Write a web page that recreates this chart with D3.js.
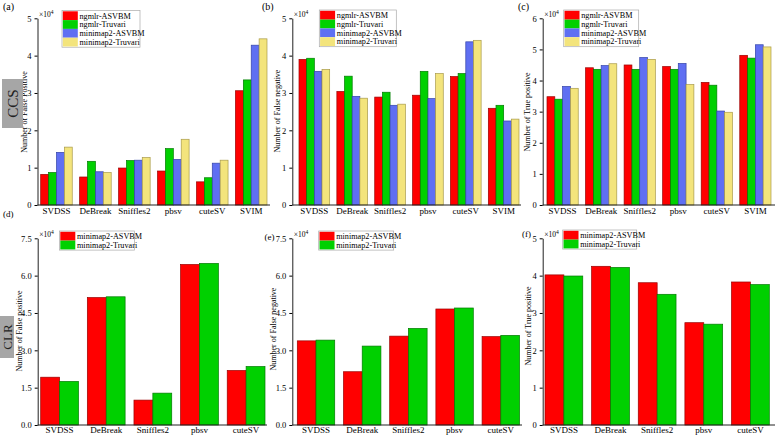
<!DOCTYPE html>
<head>
  <meta charset="utf-8">
  <script src="https://d3js.org/d3.v7.min.js"></script>
  <style>
    body { margin: 0; background: #fff; }
    text { font-family: "Liberation Serif", "Times New Roman", serif; }
  </style>
</head>
<body>
<div id="my_dataviz"></div>
<script>

  // categories and series
  var toolsCCS = ["SVDSS", "DeBreak", "Sniffles2", "pbsv", "cuteSV", "SVIM"];
  var toolsCLR = ["SVDSS", "DeBreak", "Sniffles2", "pbsv", "cuteSV"];
  var seriesCCS = ["ngmlr-ASVBM", "ngmlr-Truvari", "minimap2-ASVBM", "minimap2-Truvari"];
  var seriesCLR = ["minimap2-ASVBM", "minimap2-Truvari"];

  // values (x10^4), one row per tool, one column per series
  var fpCCS = [
    [0.82, 0.87, 1.41, 1.55],
    [0.75, 1.17, 0.89, 0.87],
    [0.99, 1.19, 1.20, 1.27],
    [0.91, 1.51, 1.22, 1.76],
    [0.62, 0.73, 1.12, 1.20],
    [3.06, 3.35, 4.28, 4.45]
  ];
  var fnCCS = [
    [3.90, 3.93, 3.58, 3.63],
    [3.04, 3.45, 2.91, 2.86],
    [2.89, 3.02, 2.67, 2.70],
    [2.94, 3.58, 2.85, 3.52],
    [3.44, 3.52, 4.37, 4.41],
    [2.59, 2.67, 2.25, 2.30]
  ];
  var tpCCS = [
    [3.48, 3.40, 3.81, 3.75],
    [4.41, 4.36, 4.48, 4.54],
    [4.50, 4.36, 4.74, 4.68],
    [4.45, 4.36, 4.55, 3.87],
    [3.94, 3.85, 3.02, 2.98],
    [4.81, 4.72, 5.15, 5.08]
  ];
  var fpCLR = [
    [1.92, 1.75],
    [5.12, 5.15],
    [1.00, 1.28],
    [6.45, 6.49],
    [2.19, 2.35]
  ];
  var fnCLR = [
    [3.38, 3.41],
    [2.14, 3.17],
    [3.57, 3.88],
    [4.66, 4.70],
    [3.55, 3.60]
  ];
  var tpCLR = [
    [4.02, 3.99],
    [4.25, 4.22],
    [3.81, 3.50],
    [2.74, 2.70],
    [3.83, 3.76]
  ];

  // tick labels
  var ticks5 = [0, 1, 2, 3, 4, 5];
  var ticks6 = [0, 1, 2, 3, 4, 5, 6];
  var ticks75 = [0, 1.5, 3.0, 4.5, 6.0, 7.5];

  var fills = ["#ff0000", "#00d000", "#5f6ff2", "#f3e47c"];
  var strokes = ["#9a0000", "#007a00", "#3444a8", "#a89a4a"];

  var svg = d3.select("#my_dataviz")
    .append("svg")
      .attr("width", 776)
      .attr("height", 438);

  var panels = [
    {tag: "(a)", tagX: 3, tagY: 10, tools: toolsCCS, series: seriesCCS, data: fpCCS, ticks: ticks5, fmt: "d",
     label: "Number of False Positive", labX: 24, labY: 112,
     ax: 37.5, axEnd: 270, bars: [40.7, 267], top: 18.3, base: 205, padT: 3,
     leg: [62, 10.5, 78]},
    {tag: "(b)", tagX: 262, tagY: 10, tools: toolsCCS, series: seriesCCS, data: fnCCS, ticks: ticks5, fmt: "d",
     label: "Number of False negative", labX: 277, labY: 111,
     ax: 292.3, axEnd: 521, bars: [299, 519], top: 18.3, base: 205, padT: 3,
     leg: [319.3, 10, 77]},
    {tag: "(c)", tagX: 518, tagY: 10, tools: toolsCCS, series: seriesCCS, data: tpCCS, ticks: ticks6, fmt: "d",
     label: "Number of True positive", labX: 527, labY: 112,
     ax: 542.7, axEnd: 775, bars: [547, 771], top: 18.3, base: 205, padT: 3,
     leg: [563.7, 10, 75]},
    {tag: "(d)", tagX: 3, tagY: 217, tools: toolsCLR, series: seriesCLR, data: fpCLR, ticks: ticks75, fmt: ".1f",
     label: "Number of False positive", labX: 19, labY: 331,
     ax: 37.7, axEnd: 267, bars: [40.7, 265], top: 238.3, base: 425, padT: 2,
     leg: [59.5, 231, 75]},
    {tag: "(e)", tagX: 264.5, tagY: 240, tools: toolsCLR, series: seriesCLR, data: fnCLR, ticks: ticks75, fmt: ".1f",
     label: "Number of False negative", labX: 273, labY: 329,
     ax: 292.3, axEnd: 522, bars: [297.3, 519.5], top: 238.3, base: 425, padT: 2,
     leg: [318.7, 231, 75]},
    {tag: "(f)", tagX: 522, tagY: 237, tools: toolsCLR, series: seriesCLR, data: tpCLR, ticks: ticks5, fmt: "d",
     label: "Number of True positive", labX: 528, labY: 326,
     ax: 542.7, axEnd: 775, bars: [545, 769.3], top: 238.3, base: 425, padT: 2,
     leg: [562.7, 230, 74]}
  ];

  panels.forEach(function(p, pi) {
    var g = svg.append("g");
    var ymax = p.ticks[p.ticks.length - 1];

    var x = d3.scaleBand()
      .domain(p.tools)
      .range(p.bars)
      .paddingInner(0.19)
      .paddingOuter(0);

    var xs = d3.scaleBand()
      .domain(p.series)
      .range([0, x.bandwidth()]);

    var y = d3.scaleLinear()
      .domain([0, ymax])
      .range([p.base, p.top]);

    // bars
    var groups = g.selectAll(".grp")
      .data(p.data)
      .enter()
      .append("g")
        .attr("transform", function(d, i) { return "translate(" + x(p.tools[i]) + ",0)"; });

    groups.selectAll("rect")
      .data(function(d) { return d; })
      .enter()
      .append("rect")
        .attr("x", function(d, j) { return xs(p.series[j]); })
        .attr("y", function(d) { return y(d); })
        .attr("width", xs.bandwidth())
        .attr("height", function(d) { return y(0) - y(d); })
        .style("fill", function(d, j) { return fills[j]; })
        .style("stroke", function(d, j) { return strokes[j]; })
        .style("stroke-width", 0.7);

    // y axis
    var ya = g.append("g")
      .attr("transform", "translate(" + p.ax + ",0)")
      .call(d3.axisLeft(y).tickValues(p.ticks).tickFormat(d3.format(p.fmt))
        .tickSizeInner(3).tickSizeOuter(0).tickPadding(3));
    ya.style("font-size", "8.5px").style("font-family", "Liberation Serif");
    ya.select(".domain").attr("stroke", "#222");

    // x axis
    var xa = g.append("g")
      .attr("transform", "translate(0," + p.base + ")")
      .call(d3.axisBottom(x).tickSize(0).tickPadding(p.padT));
    xa.style("font-size", "9px").style("font-family", "Liberation Serif");
    xa.select(".domain").remove();
    g.append("line")
      .attr("x1", p.ax).attr("x2", p.axEnd)
      .attr("y1", p.base).attr("y2", p.base)
      .attr("stroke", "#222");

    // exponent
    var ex = g.append("text")
      .attr("x", p.ax + 1.5)
      .attr("y", p.top - 1)
      .style("font-size", "7.5px")
      .text("\u00d710");
    ex.append("tspan").attr("dy", -3).style("font-size", "5.5px").text("4");

    // y label
    g.append("text")
      .attr("transform", "translate(" + p.labX + "," + p.labY + ") rotate(-90)")
      .attr("text-anchor", "middle")
      .attr("dy", "0.35em")
      .style("font-size", "8px")
      .text(p.label);

    // panel tag
    g.append("text")
      .attr("x", p.tagX)
      .attr("y", p.tagY)
      .style("font-size", pi < 3 ? "10px" : "9px")
      .text(p.tag);

    // legend
    var rowH = 8.8, swW = 15;
    var lg = g.append("g").attr("transform", "translate(" + p.leg[0] + "," + p.leg[1] + ")");
    lg.append("rect")
      .attr("width", p.leg[2])
      .attr("height", p.series.length * rowH + 1.5)
      .style("fill", "#fff")
      .style("stroke", "#aaa")
      .style("stroke-width", 0.7);
    p.series.forEach(function(s, j) {
      lg.append("rect")
        .attr("x", 0.8).attr("y", 0.8 + j * rowH)
        .attr("width", swW).attr("height", rowH)
        .style("fill", fills[j]);
      lg.append("text")
        .attr("x", swW + 2.5)
        .attr("y", 0.8 + j * rowH + rowH / 2)
        .attr("dy", "0.35em")
        .style("font-size", "8.2px")
        .text(s);
    });
  });

  // row labels
  var rowLabels = [
    {text: "CCS", x: 2, y: 79, w: 21, h: 49, fs: 15},
    {text: "CLR", x: 0, y: 316, w: 14, h: 42, fs: 13}
  ];
  rowLabels.forEach(function(r) {
    svg.append("rect")
      .attr("x", r.x).attr("y", r.y)
      .attr("width", r.w).attr("height", r.h)
      .style("fill", "#a6a6a6");
    svg.append("text")
      .attr("transform", "translate(" + (r.x + r.w / 2) + "," + (r.y + r.h / 2) + ") rotate(-90)")
      .attr("text-anchor", "middle")
      .attr("dy", "0.35em")
      .style("font-size", r.fs + "px")
      .style("fill", "#222")
      .text(r.text);
  });

</script>
</body>
